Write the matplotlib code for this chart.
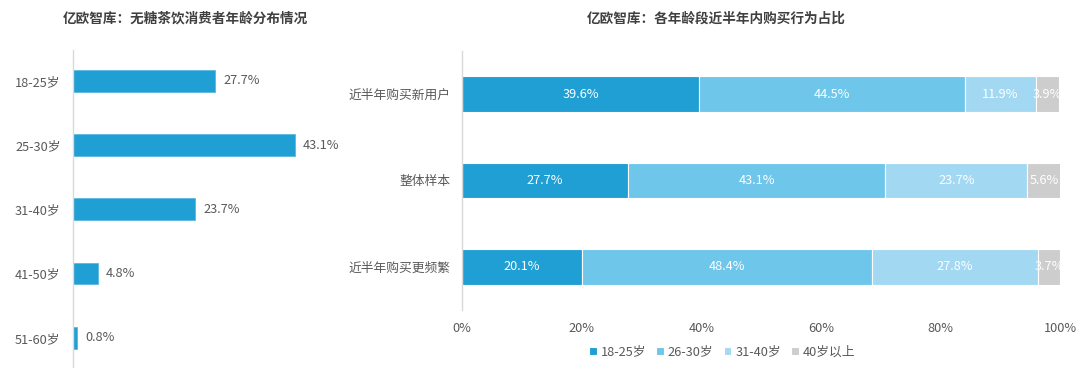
import matplotlib
matplotlib.use("Agg")
import matplotlib.pyplot as plt

plt.rcParams['font.family'] = ['Noto Sans CJK SC', 'DejaVu Sans']

# Left chart data
age_groups = ["18-25岁", "25-30岁", "31-40岁", "41-50岁", "51-60岁"]
age_share = [27.7, 43.1, 23.7, 4.8, 0.8]

# Right chart data
segments = ["近半年购买新用户", "整体样本", "近半年购买更频繁"]
series_names = ["18-25岁", "26-30岁", "31-40岁", "40岁以上"]
s_18_25 = [39.6, 27.7, 20.1]
s_26_30 = [44.5, 43.1, 48.4]
s_31_40 = [11.9, 23.7, 27.8]
s_40p = [3.9, 5.6, 3.7]
x_ticks = [0, 20, 40, 60, 80, 100]
x_tick_labels = ["0%", "20%", "40%", "60%", "80%", "100%"]

colors = ["#1f9fd3", "#6ec7eb", "#a3d8f2", "#cdcdcd"]
text_gray = "#595959"
title_color = "#404040"
axis_color = "#d9d9d9"
fs = 9.2

W, H = 1080, 368
fig = plt.figure(figsize=(W / 100, H / 100), dpi=100)

# ---------- Left chart ----------
axL = fig.add_axes([73 / W, 0, (330 - 73) / W, 1 - 50 / H])
yL = list(range(len(age_groups)))
axL.barh(yL, age_share, height=0.34, color=colors[0], edgecolor="#5bb8e0", linewidth=0.6)
axL.set_xlim(0, 50)
axL.set_ylim(4.47, -0.48)
axL.set_yticks(yL)
axL.set_yticklabels(age_groups, fontsize=fs, color=text_gray)
axL.tick_params(axis="y", length=0, pad=9)
axL.set_xticks([])
for s in ["top", "right", "bottom"]:
    axL.spines[s].set_visible(False)
axL.spines["left"].set_color(axis_color)
axL.spines["left"].set_linewidth(1.0)
for yi, v in zip(yL, age_share):
    axL.annotate(f"{v}%", (v, yi), xytext=(6, 0), textcoords="offset points",
                 va="center", ha="left", fontsize=fs, color=text_gray)
fig.text(185 / W, 1 - 19 / H, "亿欧智库：无糖茶饮消费者年龄分布情况", ha="center", va="center",
         fontsize=9.8, fontweight="bold", color=title_color)

# ---------- Right chart ----------
axR = fig.add_axes([462 / W, 1 - 310 / H, (1060 - 462) / W, (310 - 51) / H])
yR = list(range(len(segments)))
data = [s_18_25, s_26_30, s_31_40, s_40p]
left = [0.0] * len(segments)
for name, vals, c in zip(series_names, data, colors):
    axR.barh(yR, vals, left=left, height=0.41, color=c, edgecolor="white",
             linewidth=0.8, label=name)
    for yi, l, v in zip(yR, left, vals):
        axR.text(l + v / 2, yi, f"{v}%", ha="center", va="center", fontsize=fs, color="white")
    left = [a + b for a, b in zip(left, vals)]
axR.set_xlim(0, 100)
axR.set_ylim(2.5, -0.5)
axR.set_yticks(yR)
axR.set_yticklabels(segments, fontsize=fs, color=text_gray)
axR.set_xticks(x_ticks)
axR.set_xticklabels(x_tick_labels, fontsize=fs, color=text_gray)
axR.tick_params(axis="y", length=0, pad=8)
axR.tick_params(axis="x", length=0, pad=9)
for s in ["top", "right", "bottom"]:
    axR.spines[s].set_visible(False)
axR.spines["left"].set_color(axis_color)
axR.spines["left"].set_linewidth(1.0)
leg = axR.legend(loc="center", bbox_to_anchor=(722 / W, 1 - 352 / H), bbox_transform=fig.transFigure,
                 ncol=4, frameon=False, fontsize=fs, handlelength=0.6, handleheight=0.6,
                 handletextpad=0.3, columnspacing=0.8)
for t in leg.get_texts():
    t.set_color(text_gray)
fig.text(716 / W, 1 - 19 / H, "亿欧智库：各年龄段近半年内购买行为占比", ha="center", va="center",
         fontsize=9.8, fontweight="bold", color=title_color)

fig.savefig("out.png", dpi=100, facecolor="white")
